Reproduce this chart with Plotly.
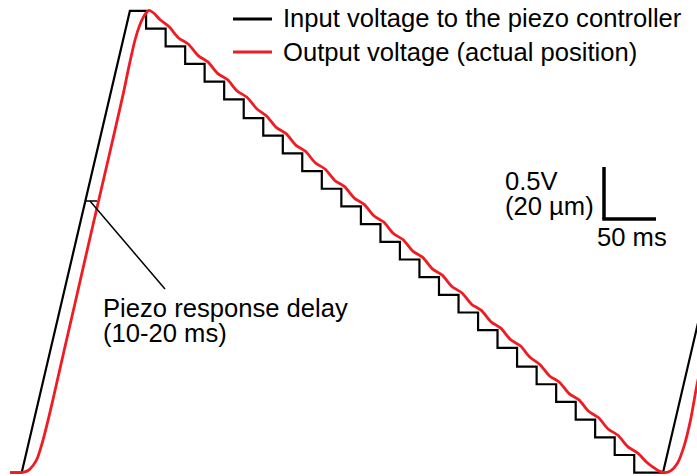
import plotly.graph_objects as go

# ---------------- data (time in ms, voltage in V) ----------------
# Input voltage: ramp up, then a descending staircase, then ramp up again
ramp_up_t = [0.0, 10.8, 111.0]
ramp_up_v = [0.0, 0.0, 4.44]
step_times = [126.0, 144.1, 162.2, 180.2, 198.3, 216.4, 234.5, 252.6, 270.6,
              288.7, 306.8, 324.9, 343.0, 361.0, 379.1, 397.2, 415.3, 433.4,
              451.4, 469.5, 487.6, 505.7, 523.8, 541.8, 559.9, 578.0]
step_levels = [4.44, 4.27, 4.10, 3.93, 3.76, 3.59, 3.41, 3.24, 3.07, 2.90,
               2.73, 2.56, 2.39, 2.22, 2.05, 1.88, 1.71, 1.54, 1.37, 1.20,
               1.02, 0.85, 0.68, 0.51, 0.34, 0.17, 0.00]
ramp_end_t = [604.6, 704.6]
ramp_end_v = [0.0, 4.44]

# Output voltage (actual position)
red_t = [0.0, 8.0, 13.0, 18.0, 24.5, 31.0, 37.0, 43.0, 50.0, 60.0, 75.0, 90.0,
         105.0, 110.0, 116.0, 120.0, 123.0, 126.0, 128.5, 133.0, 138.5,
         147.1, 156.1, 165.2, 174.2, 183.2, 192.2, 201.3, 210.3, 219.4, 228.4,
         237.5, 246.5, 255.6, 264.6, 273.6, 282.6, 291.7, 300.7, 309.8, 318.8,
         327.9, 336.9, 346.0, 355.0, 364.0, 373.0, 382.1, 391.1, 400.2, 409.2,
         418.3, 427.3, 436.4, 445.4, 454.4, 463.4, 472.5, 481.5, 490.6, 499.6,
         508.7, 517.7, 526.8, 535.8, 544.8, 553.8, 562.9, 571.9, 581.0, 589.5,
         595.7, 601.0, 606.5, 612.0, 618.0, 624.0, 630.0, 636.0, 642.0, 660.0]
red_v = [0.0, 0.0, 0.005, 0.03, 0.12, 0.33, 0.58, 0.85, 1.17, 1.62, 2.30, 2.97,
         3.65, 3.90, 4.17, 4.30, 4.37, 4.42, 4.445, 4.42, 4.36,
         4.29, 4.18, 4.12, 4.01, 3.95, 3.84, 3.78, 3.67, 3.61, 3.50,
         3.43, 3.32, 3.26, 3.15, 3.09, 2.98, 2.92, 2.81, 2.75, 2.64,
         2.58, 2.47, 2.41, 2.30, 2.24, 2.13, 2.07, 1.96, 1.90, 1.79,
         1.73, 1.62, 1.56, 1.45, 1.39, 1.28, 1.22, 1.11, 1.04, 0.93,
         0.87, 0.76, 0.70, 0.59, 0.53, 0.42, 0.36, 0.25, 0.19, 0.10,
         0.05, 0.015, 0.0, 0.02, 0.09, 0.25, 0.50, 0.84, 1.12, 1.93]

labels = {
    "input": "Input voltage to the piezo controller",
    "output": "Output voltage (actual position)",
    "delay1": "Piezo response delay",
    "delay2": "(10-20 ms)",
    "sv1": "0.5V",
    "sv2": "(20 µm)",
    "sh": "50 ms",
}

# ---------------- build input trace vertices ----------------
black_t = list(ramp_up_t)
black_v = list(ramp_up_v)
for i, t in enumerate(step_times):
    black_t += [t, t]
    black_v += [step_levels[i], step_levels[i + 1]]
black_t += ramp_end_t
black_v += ramp_end_v

W, H = 697, 476
RED = "#ee1d23"

fig = go.Figure()
fig.add_trace(go.Scatter(x=black_t, y=black_v, mode="lines",
                         line=dict(color="black", width=2.2),
                         name=labels["input"], showlegend=False))
fig.add_trace(go.Scatter(x=red_t, y=red_v, mode="lines",
                         line=dict(color=RED, width=2.8, shape="spline", smoothing=0.8),
                         name=labels["output"], showlegend=False))


def px(x):
    return x / W


def py(y):
    return 1 - y / H


shapes = []
# legend samples
shapes.append(dict(type="line", xref="paper", yref="paper", x0=px(233), x1=px(272),
                   y0=py(19), y1=py(19), line=dict(color="black", width=3)))
shapes.append(dict(type="line", xref="paper", yref="paper", x0=px(233), x1=px(272),
                   y0=py(52), y1=py(52), line=dict(color=RED, width=3)))
# scale bar
shapes.append(dict(type="line", xref="paper", yref="paper", x0=px(604), x1=px(604),
                   y0=py(167), y1=py(219), line=dict(color="black", width=3.5)))
shapes.append(dict(type="line", xref="paper", yref="paper", x0=px(602.3), x1=px(656),
                   y0=py(219), y1=py(219), line=dict(color="black", width=3.5)))
# delay pointer
shapes.append(dict(type="line", xref="paper", yref="paper", x0=px(86), x1=px(97),
                   y0=py(201), y1=py(201), line=dict(color="black", width=1.5)))
shapes.append(dict(type="line", xref="paper", yref="paper", x0=px(90), x1=px(165),
                   y0=py(201), y1=py(289), line=dict(color="black", width=1.5)))

FONT = dict(family="Arial, Liberation Sans, sans-serif", size=25.6, color="black")
ann = []


def text(x, y, s):
    ann.append(dict(x=px(x), y=py(y), xref="paper", yref="paper", text=s,
                    showarrow=False, xanchor="left", yanchor="middle", font=FONT))


text(281, 18, labels["input"])
text(281, 52, labels["output"])
text(503, 181, labels["sv1"])
text(503, 206, labels["sv2"])
text(595, 237, labels["sh"])
text(101, 308, labels["delay1"])
text(101, 333, labels["delay2"])

fig.update_layout(
    width=W, height=H,
    margin=dict(l=0, r=0, t=0, b=0),
    paper_bgcolor="white", plot_bgcolor="white",
    xaxis=dict(range=[-9.26, 636.1], visible=False, fixedrange=True),
    yaxis=dict(range=[-0.032, 4.545], visible=False, fixedrange=True),
    shapes=shapes, annotations=ann, showlegend=False,
)

fig.write_html("out.html", config={"displayModeBar": False},
               post_script="document.body.style.margin='0';document.body.style.overflow='hidden';")
